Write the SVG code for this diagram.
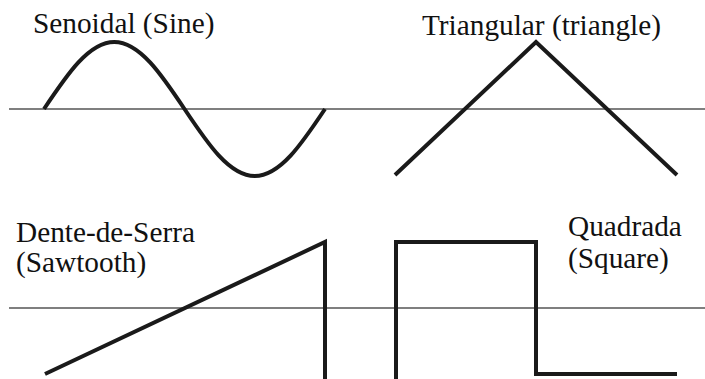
<svg xmlns="http://www.w3.org/2000/svg" width="705" height="379" viewBox="0 0 705 379">
<style>
.axis{stroke:#555;stroke-width:1.6;fill:none}
.wave{stroke:#1a1a1a;stroke-width:4;fill:none;stroke-linejoin:miter}
text{font-family:'Liberation Serif','Times New Roman',serif;font-size:29.3px;fill:#111}
</style>
<rect width="705" height="379" fill="#fff"/>
<g id="axes">
<line class="axis" x1="9" y1="109" x2="705" y2="109"/>
<line class="axis" x1="9" y1="308" x2="705" y2="308"/>
</g>
<g id="sine">
<path class="wave" d="M44,109 C66.9,74.7 88.8,42 114.25,42 C139.7,42 161.6,74.7 184.5,109 C207.4,143.3 229.3,176 254.75,176 C280.2,176 302.1,143.3 325,109"/>
<text x="33" y="33" font-family="Liberation Serif, serif">Senoidal (Sine)</text>
</g>
<g id="triangle">
<polyline class="wave" points="395,175 536,42 677,175"/>
<text x="422" y="35" font-family="Liberation Serif, serif">Triangular (triangle)</text>
</g>
<g id="sawtooth">
<polyline class="wave" points="45,374 325,242 325,379"/>
<text x="16" y="242" font-family="Liberation Serif, serif">Dente-de-Serra</text>
<text x="16" y="272" font-family="Liberation Serif, serif">(Sawtooth)</text>
</g>
<g id="square">
<polyline class="wave" points="396,379 396,242 536,242 536,374 677,374"/>
<text x="568" y="236" font-family="Liberation Serif, serif">Quadrada</text>
<text x="568" y="268" font-family="Liberation Serif, serif">(Square)</text>
</g>
</svg>
